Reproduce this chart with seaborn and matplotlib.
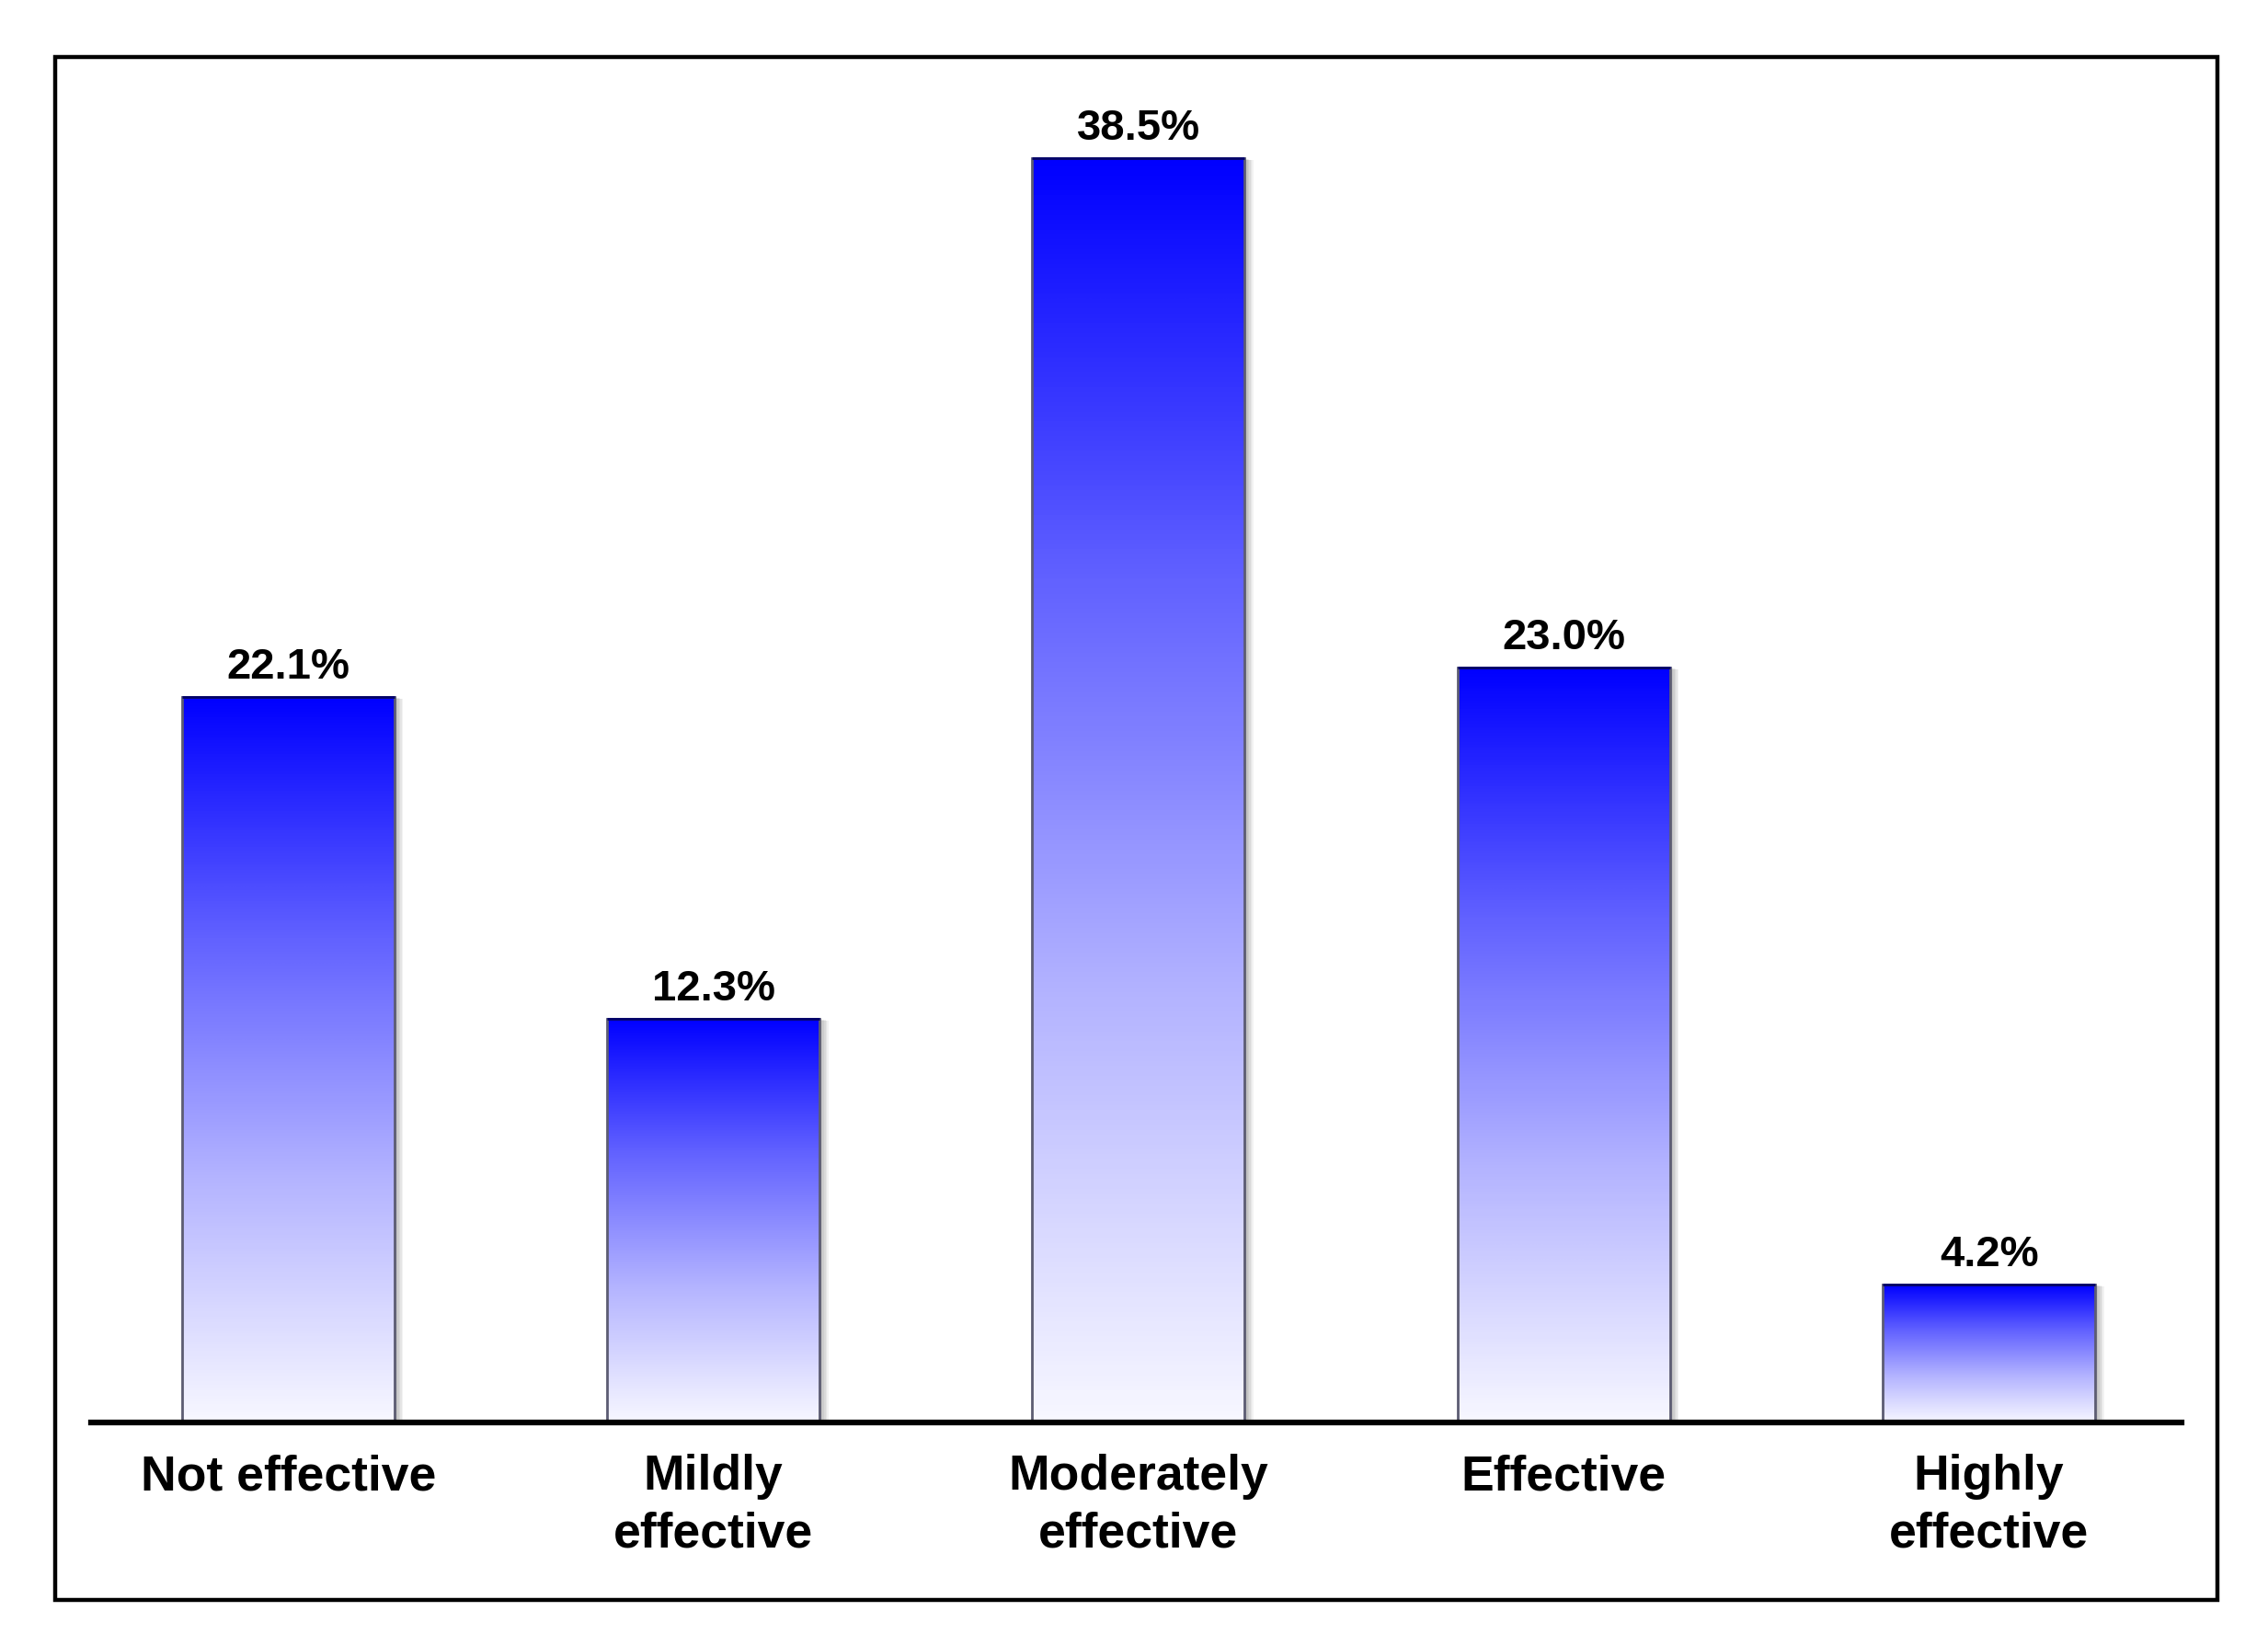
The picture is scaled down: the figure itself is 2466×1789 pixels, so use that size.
import numpy as np
import pandas as pd
import matplotlib.pyplot as plt
import matplotlib.transforms as mtransforms
from matplotlib.colors import LinearSegmentedColormap
from matplotlib.patches import Rectangle
import seaborn as sns

categories = ['Not effective', 'Mildly\neffective', 'Moderately\neffective', 'Effective', 'Highly\neffective']
percent = [22.1, 12.3, 38.5, 23.0, 4.2]

sns.set_theme(style='white')
plt.rcParams['font.family'] = ['Liberation Sans', 'DejaVu Sans']

df = pd.DataFrame({'category': categories, 'percent': percent})

fig = plt.figure(figsize=(24.66, 17.90), dpi=100)
ax = fig.add_axes([0.0402, 0.1353, 0.9215, 0.8093])
sns.barplot(data=df, x='category', y='percent', width=0.5, color='blue', ax=ax)

xlim = (-0.463, 4.452)
ylim = (0, 40.57)

# gradient fill (white at the bottom to blue at the top)
cmap = LinearSegmentedColormap.from_list('bluefade', ['#f7f7ff', '#b4b4ff', '#6262ff', '#0000ff'])
grad = np.linspace(0, 1, 256).reshape(-1, 1)

for p in ax.patches:
    x0, w, h = p.get_x(), p.get_width(), p.get_height()
    # soft drop shadow on the right side
    for k in range(1, 7):
        tr = mtransforms.offset_copy(ax.transData, fig=fig, x=k * 1.6, y=-k * 0.4, units='dots')
        ax.add_patch(Rectangle((x0, 0), w, h, transform=tr, facecolor='black',
                               edgecolor='none', alpha=0.05, zorder=1))
    im = ax.imshow(grad, extent=[x0, x0 + w, 0, h], origin='lower', aspect='auto',
                   cmap=cmap, zorder=2, interpolation='bicubic')
    p.set_facecolor('none')
    p.set_edgecolor('#5c5c72')
    p.set_linewidth(2)
    p.set_zorder(3)
    ax.plot([x0, x0 + w], [h, h], color='#00006a', lw=2, zorder=4, solid_capstyle='butt')
    ax.annotate(f'{h:.1f}%', (x0 + w / 2, h), xytext=(0, 15), textcoords='offset points',
                ha='center', va='baseline', fontsize=34, fontweight='bold', color='black')

ax.set_xlim(*xlim)
ax.set_ylim(*ylim)
ax.set_xlabel('')
ax.set_ylabel('')
ax.set_yticks([])
for side in ['top', 'left', 'right']:
    ax.spines[side].set_visible(False)
ax.spines['bottom'].set_linewidth(4.5)
ax.spines['bottom'].set_color('black')
ax.spines['bottom'].set_zorder(5)
ax.tick_params(axis='x', length=0, pad=24)
for lbl in ax.get_xticklabels():
    lbl.set_fontsize(38.5)
    lbl.set_fontweight('bold')
    lbl.set_color('black')
    lbl.set_linespacing(1.32)

# outer frame
fig.add_artist(Rectangle((0.0243, 0.0274), 0.9534, 0.9374, transform=fig.transFigure,
                         fill=False, edgecolor='black', linewidth=3.2))

fig.savefig('out.png', dpi=100, facecolor='white')
